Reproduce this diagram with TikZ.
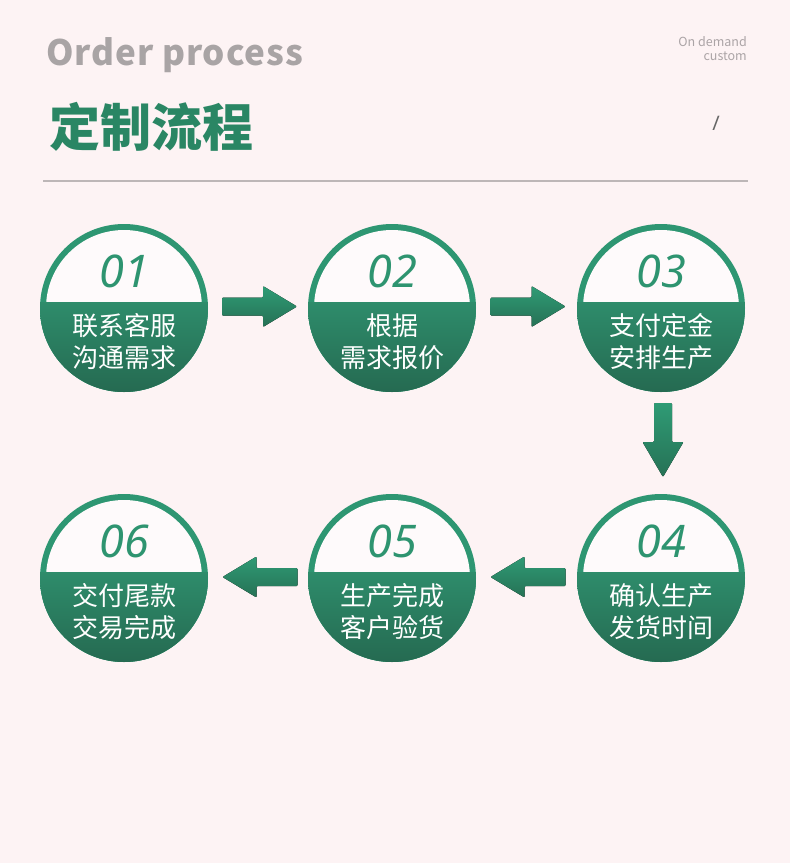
\documentclass[tikz,border=0pt]{standalone}
\usepackage{fontspec}
\setmainfont{Noto Sans}
\newfontfamily\cjk{Noto Sans CJK SC}
\newfontfamily\cjkspaced[LetterSpace=2.6]{Noto Sans CJK SC}
\newfontfamily\numfont{Noto Sans Italic}
\usetikzlibrary{calc}
\definecolor{bg}{HTML}{FDF3F4}
\definecolor{ringgreen}{HTML}{2E9672}
\definecolor{gtop}{HTML}{2E8C6B}
\definecolor{gbot}{HTML}{256A51}
\definecolor{atop}{HTML}{2F9B75}
\definecolor{abot}{HTML}{267155}
\definecolor{titlegray}{HTML}{A9A4A5}
\definecolor{titlegreen}{HTML}{2A8664}
\definecolor{numgreen}{HTML}{2E9470}
\definecolor{smallgray}{HTML}{ABA4A6}
\definecolor{rulegray}{HTML}{BDB6B7}
\newcommand\flowstep[5]{%
  \node[stepcircle] (#1) at #2 {};
  \node[numtext] at ($(#1)+(0,-21)$) {#3};
  \node[steptext] at ($(#1)+(0,27)$) {#4};
  \node[steptext] at ($(#1)+(0,59)$) {#5};
}
\begin{document}
\begin{tikzpicture}[x=1pt,y=-1pt,
  stepcircle/.style={circle, minimum size=168pt, inner sep=0pt, fill=ringgreen,
    path picture={
      \begin{scope}
        \clip (path picture bounding box.north west) rectangle ($(path picture bounding box.east)+(0,-6)$);
        \fill[white!60!bg] (path picture bounding box.center) circle (78);
      \end{scope}
      \fill[top color=gtop, bottom color=gbot] ($(path picture bounding box.east)+(0,-6)$) rectangle (path picture bounding box.south west);
    }},
  numtext/.style={anchor=base, inner sep=0pt, text=numgreen, font=\numfont\fontsize{45}{48}\selectfont},
  steptext/.style={anchor=base, inner sep=0pt, text=white, font=\cjk\fontsize{26}{28}\selectfont},
  blockarrow/.style={top color=atop, bottom color=abot, rounded corners=1pt},
]
\fill[bg] (0,0) rectangle (790,863);
\useasboundingbox (0,0) rectangle (790,863);

% header
\node[anchor=base west, inner sep=0pt, text=titlegray, font=\cjkspaced\bfseries\fontsize{35}{40}\selectfont] (en) at (46,65) {Order process};
\node[anchor=base west, inner sep=0pt, text=titlegreen, font=\cjk\bfseries\fontsize{51}{56}\selectfont] (zh) at (49,146) {定制流程};
\node[anchor=base east, inner sep=0pt, text=smallgray, font=\cjk\fontsize{12.5}{14}\selectfont] (od) at (747,46.5) {On demand};
\node[anchor=base east, inner sep=0pt, text=smallgray, font=\cjk\fontsize{12.5}{14}\selectfont] (cu) at (747,60.5) {custom};
\node[anchor=base, inner sep=0pt, text=black!60, font=\fontsize{20}{22}\selectfont] (sl) at (716,130) {/};
\coordinate (rl) at (43,181);
\coordinate (rr) at (748,181);
\draw[rulegray, line width=1.2pt] (rl) -- (rr);

% steps
\flowstep{c1}{(124,308)}{01}{联系客服}{沟通需求}
\flowstep{c2}{(392,308)}{02}{根据}{需求报价}
\flowstep{c3}{(661,308)}{03}{支付定金}{安排生产}
\flowstep{c4}{(661,578)}{04}{确认生产}{发货时间}
\flowstep{c5}{(392,578)}{05}{生产完成}{客户验货}
\flowstep{c6}{(124,578)}{06}{交付尾款}{交易完成}

% arrow centres
\coordinate (a12) at ($(c1.east)!0.5!(c2.west)+(1.5,-1.5)$);
\coordinate (a23) at ($(c2.east)!0.5!(c3.west)+(1.5,-1.5)$);
\coordinate (a34) at ($(c3.south)!0.5!(c4.north)+(2,-3)$);
\coordinate (a45) at ($(c4.west)!0.5!(c5.east)+(1.5,-1)$);
\coordinate (a56) at ($(c5.west)!0.5!(c6.east)+(2,-1)$);

% right arrows
\foreach \m in {a12,a23}{
  \begin{scope}[shift={(\m)}]
    \fill[blockarrow] (-37.5,-9) -- (3.5,-9) -- (3.5,-20.5) -- (37.5,0) -- (3.5,20.5) -- (3.5,9) -- (-37.5,9) -- cycle;
  \end{scope}
}
% left arrows
\foreach \m in {a45,a56}{
  \begin{scope}[shift={(\m)}]
    \fill[blockarrow] (37.5,-9) -- (-3.5,-9) -- (-3.5,-20.5) -- (-37.5,0) -- (-3.5,20.5) -- (-3.5,9) -- (37.5,9) -- cycle;
  \end{scope}
}
% down arrow
\begin{scope}[shift={(a34)}]
  \fill[blockarrow] (-9,-37) -- (-9,2) -- (-20.5,2) -- (0,37) -- (20.5,2) -- (9,2) -- (9,-37) -- cycle;
\end{scope}
\end{tikzpicture}
\end{document}
